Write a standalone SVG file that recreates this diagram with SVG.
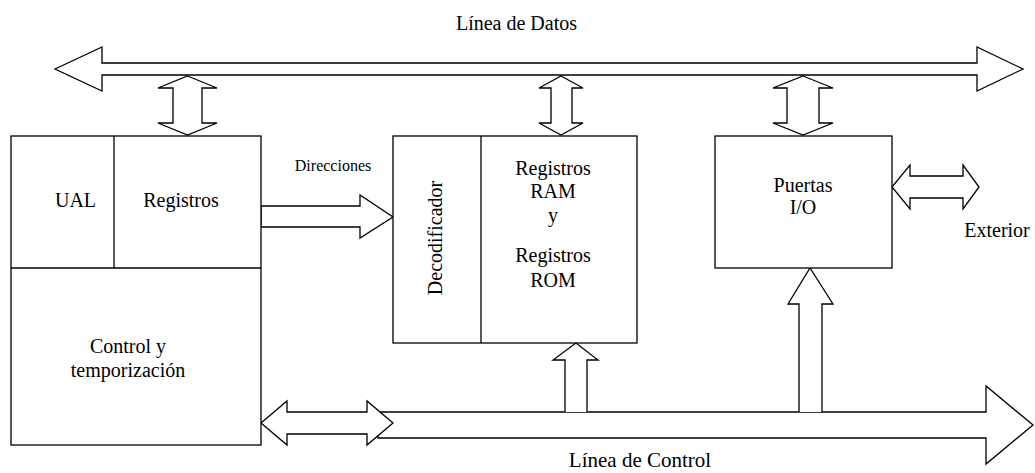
<svg xmlns="http://www.w3.org/2000/svg" width="1035" height="473" viewBox="0 0 1035 473">
  <style>
    .ln { fill: #fff; stroke: #000; stroke-width: 1.3; stroke-linejoin: miter; }
    .op { fill: #fff; stroke: #000; stroke-width: 1.3; }
    .tx { font-family: "Liberation Serif", "Times New Roman", serif; font-size: 20px; fill: #000; text-anchor: middle; }
    .sm { font-size: 16px; }
  </style>
  <rect width="1035" height="473" fill="#fff"/>

  <g id="connectors">
    <!-- data bus -->
    <polygon class="ln" points="55,69 102,47 102,63 977,63 977,47 1023,69 977,91 977,75 102,75 102,91"/>
    <!-- control bus -->
    <polygon class="ln" points="378,412 986,412 986,386 1033,425 986,464 986,438 378,438"/>
    <!-- data bus to CPU registers -->
    <polygon class="ln" points="187.5,76 217,88 202,88 202,123 217,123 187.5,135 158,123 173,123 173,88 158,88"/>
    <!-- data bus to memory -->
    <polygon class="ln" points="561,76 583,88 572,88 572,123 583,123 561,135 539,123 551,123 551,88 539,88"/>
    <!-- data bus to I/O -->
    <polygon class="ln" points="803,76 833,88 819,88 819,123 833,123 803,135 773,123 787,123 787,88 773,88"/>
    <!-- address bus -->
    <polygon class="ln" points="261,206 360,206 360,195 393,217 360,238 360,227 261,227"/>
    <!-- I/O to exterior -->
    <polygon class="ln" points="892,187 910,165 910,176 963,176 963,165 979,187 963,209 963,198 910,198 910,209"/>
    <!-- control bus to memory -->
    <polyline class="op" points="565,412 565,360 553,360 576,343 598,360 587,360 587,412"/>
    <!-- control bus to I/O -->
    <polyline class="op" points="799,412 799,304 788,304 810,268 833,304 822,304 822,412"/>
    <!-- CPU to control bus -->
    <polygon class="ln" points="261,423 287,401 287,412 367,412 367,401 393,423 367,445 367,434 287,434 287,445"/>
  </g>

  <g id="cpu">
    <rect class="ln" x="11" y="136" width="250" height="309"/>
    <line class="ln" x1="11" y1="268" x2="261" y2="268"/>
    <line class="ln" x1="114" y1="136" x2="114" y2="268"/>
    <text class="tx" x="75.5" y="207">UAL</text>
    <text class="tx" x="181" y="207">Registros</text>
    <text class="tx" x="128" y="353">Control y</text>
    <text class="tx" x="128" y="377">temporización</text>
  </g>

  <g id="memory">
    <rect class="ln" x="393" y="136" width="244" height="207"/>
    <line class="ln" x1="481" y1="136" x2="481" y2="343"/>
    <text class="tx" transform="translate(442,238) rotate(-90)">Decodificador</text>
    <text class="tx" x="553" y="175">Registros</text>
    <text class="tx" x="553" y="198">RAM</text>
    <text class="tx" x="553" y="222">y</text>
    <text class="tx" x="553" y="262">Registros</text>
    <text class="tx" x="553" y="287">ROM</text>
  </g>

  <g id="io">
    <rect class="ln" x="715" y="136" width="177" height="132"/>
    <text class="tx" x="803" y="192">Puertas</text>
    <text class="tx" x="803" y="214">I/O</text>
  </g>

  <g id="labels">
    <text class="tx" x="516.5" y="30">Línea de Datos</text>
    <text class="tx sm" x="333" y="171">Direcciones</text>
    <text class="tx" x="997" y="237">Exterior</text>
    <text class="tx" x="640" y="467" style="font-size:21px">Línea de Control</text>
  </g>
</svg>
